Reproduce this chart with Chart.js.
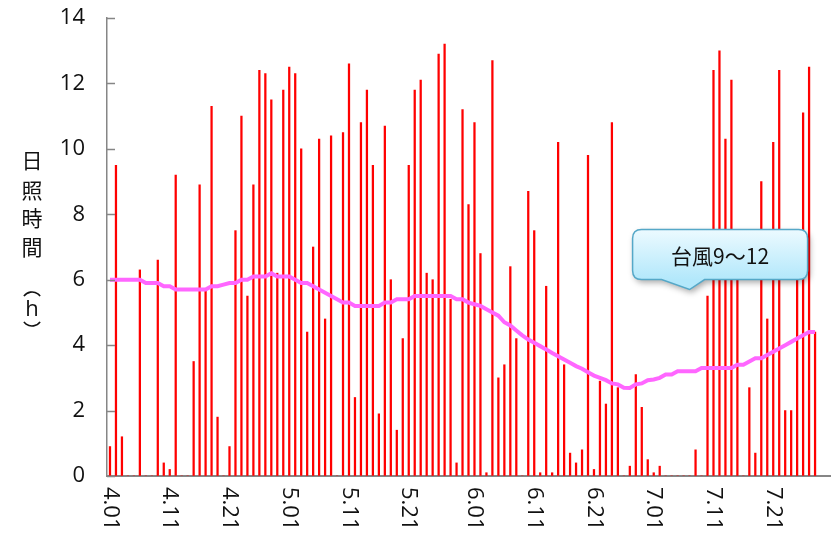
<!DOCTYPE html>
<html>
<head>
<meta charset="utf-8">
<script src="https://cdn.jsdelivr.net/npm/chart.js@4.4.1/dist/chart.umd.min.js"></script>
<style>
body{margin:0;background:#fff;}
#wrap{width:831px;height:542px;}
</style>
</head>
<body>
<div id="wrap"><canvas id="sunChart" width="831" height="542"></canvas></div>
<script>

// daily sunshine hours, 4/01 .. 7/30 (last two days no data)
let sunHours = [
0.9,9.5,1.2,0,0,6.3,0,0,6.6,0.4,
0.2,9.2,0,0,3.5,8.9,5.7,11.3,1.8,0,
0.9,7.5,11.0,5.5,8.9,12.4,12.3,11.5,6.2,11.8,
12.5,12.3,10.0,4.4,7.0,10.3,4.8,10.4,0,10.5,
12.6,2.4,10.8,11.8,9.5,1.9,10.7,6.0,1.4,4.2,
9.5,11.8,12.1,6.2,6.0,12.9,13.2,5.4,0.4,11.2,
8.3,10.8,6.8,0.1,12.7,3.0,3.4,6.4,4.2,0,
8.7,7.5,0.1,5.8,0.1,10.2,3.4,0.7,0.4,0.8,
9.8,0.2,2.9,2.2,10.8,2.7,0,0.3,3.1,2.1,
0.5,0.1,0.3,0,0,0,0,0,0.8,0,
5.5,12.4,13.0,10.3,12.1,6.8,0,2.7,0.7,9.0,
4.8,10.2,12.4,2.0,2.0,7.0,11.1,12.5,4.4,null,
null
];

// running mean line (magenta)
let meanHours = [
6.0,6.0,6.0,6.0,6.0,6.0,5.9,5.9,5.9,5.8,
5.8,5.7,5.7,5.7,5.7,5.7,5.7,5.8,5.8,5.85,
5.9,5.9,6.0,6.0,6.1,6.1,6.1,6.2,6.1,6.1,
6.1,6.0,5.9,5.9,5.8,5.7,5.6,5.5,5.4,5.3,
5.3,5.2,5.2,5.2,5.2,5.2,5.3,5.3,5.4,5.4,
5.4,5.5,5.5,5.5,5.5,5.5,5.5,5.5,5.4,5.4,
5.3,5.25,5.2,5.1,5.0,4.9,4.7,4.6,4.45,4.3,
4.17,4.07,3.97,3.87,3.76,3.66,3.56,3.46,3.36,3.28,
3.17,3.07,3.0,2.93,2.83,2.8,2.7,2.69,2.8,2.83,
2.93,2.95,3.0,3.1,3.1,3.2,3.2,3.2,3.2,3.3,
3.3,3.3,3.3,3.3,3.3,3.4,3.4,3.5,3.6,3.6,
3.7,3.8,3.9,4.0,4.1,4.2,4.3,4.4,4.4,null,
null
];

let monthDays = [[4,30],[5,31],[6,30],[7,30]];
let shownDays = [1,11,21];
let yTicks = [0,2,4,6,8,10,12,14];
let yTitle = ["日","照","時","間","(","h",")"];
let noteText = "台風9～12";

let days = [];
for(let m of monthDays){
  for(let d=1; d<=m[1]; d++){
    days.push(m[0]+"."+(d<10?"0"+d:d));
  }
}

let tickFont = "22px 'Open Sans', 'Noto Sans', sans-serif";
let axisGray = "#868686";

let extraDraw = {
  id:"extraDraw",
  afterDraw(chart){
    let ctx = chart.ctx;
    let xs = chart.scales.x;
    let ys = chart.scales.y;
    let area = chart.chartArea;

    // inside tick marks on the value axis
    ctx.save();
    ctx.strokeStyle = axisGray;
    ctx.lineWidth = 1.5;
    for(let v of yTicks){
      let y = Math.round(ys.getPixelForValue(v))+0.5;
      ctx.beginPath();
      ctx.moveTo(area.left, y);
      ctx.lineTo(area.left+8, y);
      ctx.stroke();
    }
    ctx.restore();

    // date labels, turned clockwise
    ctx.save();
    ctx.font = tickFont;
    ctx.fillStyle = "#111";
    ctx.textAlign = "left";
    ctx.textBaseline = "middle";
    days.forEach(function(lab,i){
      let d = parseInt(lab.split(".")[1]);
      if(shownDays.indexOf(d) < 0) return;
      ctx.save();
      ctx.translate(xs.getPixelForValue(i), area.bottom+11);
      ctx.rotate(Math.PI/2);
      ctx.fillText(lab,0,0);
      ctx.restore();
    });
    ctx.restore();

    // vertical axis title, brackets drawn as arcs
    ctx.save();
    ctx.fillStyle = "#111";
    ctx.strokeStyle = "#111";
    ctx.lineWidth = 1.6;
    ctx.textAlign = "center";
    ctx.textBaseline = "middle";
    let offs = [142,172,200,229,275,292,307];
    yTitle.forEach(function(ch,k){
      let y = area.top+offs[k];
      if(ch=="("){
        ctx.beginPath();
        ctx.arc(32, y+9, 10, Math.PI*1.2, Math.PI*1.8);
        ctx.stroke();
        return;
      }
      if(ch==")"){
        ctx.beginPath();
        ctx.arc(32, y-9, 10, Math.PI*0.2, Math.PI*0.8);
        ctx.stroke();
        return;
      }
      ctx.font = (ch=="h") ? "22px 'Open Sans', sans-serif" : "21px 'Noto Sans CJK JP', sans-serif";
      ctx.fillText(ch, 32, y);
    });
    ctx.restore();

    // callout box
    let tipX = xs.getPixelForValue(97);
    let tipY = ys.getPixelForValue(5.7);
    let bx = tipX-57, bw = 175, by = tipY-60, bh = 50, r = 9;
    ctx.save();
    ctx.beginPath();
    ctx.moveTo(bx+r, by);
    ctx.lineTo(bx+bw-r, by);
    ctx.quadraticCurveTo(bx+bw, by, bx+bw, by+r);
    ctx.lineTo(bx+bw, by+bh-r);
    ctx.quadraticCurveTo(bx+bw, by+bh, bx+bw-r, by+bh);
    ctx.lineTo(tipX+15, by+bh);
    ctx.lineTo(tipX, tipY);
    ctx.lineTo(tipX-28, by+bh);
    ctx.lineTo(bx+r, by+bh);
    ctx.quadraticCurveTo(bx, by+bh, bx, by+bh-r);
    ctx.lineTo(bx, by+r);
    ctx.quadraticCurveTo(bx, by, bx+r, by);
    ctx.closePath();
    let grad = ctx.createLinearGradient(0, by, 0, by+bh);
    grad.addColorStop(0, "#ecfaff");
    grad.addColorStop(1, "#b3e8fb");
    ctx.shadowColor = "rgba(0,0,0,0.35)";
    ctx.shadowBlur = 6;
    ctx.shadowOffsetX = 2;
    ctx.shadowOffsetY = 3;
    ctx.fillStyle = grad;
    ctx.fill();
    ctx.shadowColor = "transparent";
    ctx.strokeStyle = "#55a8c8";
    ctx.lineWidth = 1.5;
    ctx.stroke();
    ctx.fillStyle = "#111";
    ctx.font = "21px 'Noto Sans CJK JP', sans-serif";
    ctx.textAlign = "center";
    ctx.textBaseline = "middle";
    ctx.fillText(noteText, bx+bw/2, by+bh/2+1);
    ctx.restore();
  }
};

let sunChart = new Chart(document.getElementById("sunChart"),{
  type:"bar",
  data:{
    labels:days,
    datasets:[{
      type:"line",
      label:"平均",
      data:meanHours,
      borderColor:"#ff66ff",
      borderWidth:4,
      pointRadius:0,
      tension:0,
      fill:false,
      order:0
    },{
      label:"日照時間",
      data:sunHours,
      backgroundColor:"#ff0000",
      barThickness:1.6,
      order:1
    }]
  },
  options:{
    responsive:false,
    animation:false,
    devicePixelRatio:1,
    layout:{padding:{top:18,right:1,bottom:0,left:0}},
    plugins:{legend:{display:false},tooltip:{enabled:false}},
    scales:{
      x:{
        grid:{display:false,drawTicks:false},
        border:{color:axisGray,width:2},
        ticks:{display:false},
        afterFit:function(s){ s.height = 66; }
      },
      y:{
        min:0,max:14,
        grid:{display:true,color:"transparent",drawOnChartArea:false,drawTicks:true,tickLength:22},
        border:{color:axisGray,width:1.5},
        ticks:{stepSize:2,padding:0,color:"#111",font:{family:"'Open Sans', 'Noto Sans', sans-serif",size:22}},
        afterFit:function(s){ s.width = 107; }
      }
    }
  },
  plugins:[extraDraw]
});

</script>
</body>
</html>
